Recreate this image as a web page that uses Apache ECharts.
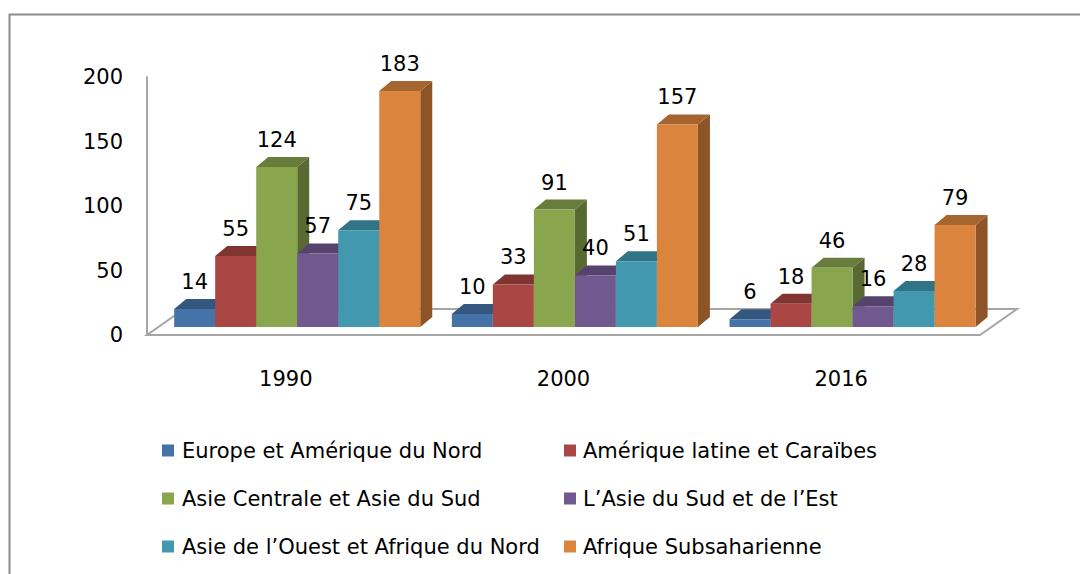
<!DOCTYPE html>
<html>
<head>
<meta charset="utf-8">
<script src="https://cdn.jsdelivr.net/npm/echarts@6/dist/echarts.min.js"></script>
<style>
html,body{margin:0;padding:0;background:#fff;}
#chart{width:1080px;height:574px;}
</style>
</head>
<body>
<div id="chart"></div>
<script>
// ---- data ----
const categories = ['1990', '2000', '2016'];
const seriesNames = [
  'Europe et Amérique du Nord',
  'Amérique latine et Caraïbes',
  'Asie Centrale et Asie du Sud',
  'L\u2019Asie du Sud et de l\u2019Est',
  'Asie de l\u2019Ouest et Afrique du Nord',
  'Afrique Subsaharienne'
];
const europeAmNord = [14, 10, 6];
const ameriqueLatine = [55, 33, 18];
const asieCentraleSud = [124, 91, 46];
const asieSudEst = [57, 40, 16];
const asieOuestAfNord = [75, 51, 28];
const afriqueSubsah = [183, 157, 79];
const yMin = 0, yMax = 200, yInterval = 50;

const seriesValues = [europeAmNord, ameriqueLatine, asieCentraleSud, asieSudEst, asieOuestAfNord, afriqueSubsah];
const colors = ['#4572A7', '#AA4643', '#89A54E', '#71588F', '#4198AF', '#DB843D'];
const FONT = 'DejaVu Sans';
const FS = 21;

function shade(hex, f) {
  const n = parseInt(hex.slice(1), 16);
  const r = Math.round(((n >> 16) & 255) * f), g = Math.round(((n >> 8) & 255) * f), b = Math.round((n & 255) * f);
  return 'rgb(' + r + ',' + g + ',' + b + ')';
}

const NS = seriesValues.length;
const BAR_FRAC = 0.1477;      // bar width as share of category band
const FRONT_DX_FRAC = 0.041;  // bar front plane shift (share of band)
const FRONT_DY = -8;
const DEPTH_DX = 12, DEPTH_DY = -10;
const FLOOR_DX = 37, FLOOR_DY = -26;

function makeBarRender(si) {
  return function (params, api) {
    const ci = api.value(0), v = api.value(1);
    const base = api.coord([ci, 0]);
    const top = api.coord([ci, v]);
    const band = api.size([1, 0])[0];
    const bw = band * BAR_FRAC;
    const x0 = base[0] - (NS / 2) * bw + si * bw + band * FRONT_DX_FRAC;
    const x1 = x0 + bw;
    const yb = base[1] + FRONT_DY;
    const yt = top[1] + FRONT_DY;
    const c = colors[si];
    return {
      type: 'group',
      children: [
        { type: 'polygon', shape: { points: [[x1, yb], [x1 + DEPTH_DX, yb + DEPTH_DY], [x1 + DEPTH_DX, yt + DEPTH_DY], [x1, yt]] },
          style: { fill: shade(c, 0.64) } },
        { type: 'polygon', shape: { points: [[x0, yt], [x1, yt], [x1 + DEPTH_DX, yt + DEPTH_DY], [x0 + DEPTH_DX, yt + DEPTH_DY]] },
          style: { fill: shade(c, 0.76) } },
        { type: 'rect', shape: { x: x0, y: yt, width: bw, height: yb - yt }, style: { fill: c } },
        { type: 'text', x: (x0 + x1) / 2, y: yt - 27,
          style: { text: String(v), fill: '#000', font: FS + 'px "' + FONT + '"', align: 'center', verticalAlign: 'middle' } }
      ]
    };
  };
}

function renderFloor(params, api) {
  const cs = params.coordSys;
  const x0 = cs.x, x1 = cs.x + cs.width, y = cs.y + cs.height;
  return {
    type: 'polygon',
    shape: { points: [[x0, y], [x1, y], [x1 + FLOOR_DX, y + FLOOR_DY], [x0 + FLOOR_DX, y + FLOOR_DY]] },
    style: { fill: '#ffffff', stroke: '#a6a6a6', lineWidth: 2 }
  };
}

const series = [{
  type: 'custom', name: '_floor', renderItem: renderFloor, data: [[0, 0]], z: 1, silent: true
}];
seriesValues.forEach(function (vals, si) {
  series.push({
    type: 'custom',
    name: seriesNames[si],
    itemStyle: { color: colors[si] },
    renderItem: makeBarRender(si),
    data: vals.map(function (v, i) { return [i, v]; }),
    z: 2
  });
});

const chart = echarts.init(document.getElementById('chart'), null, { renderer: 'svg' });
chart.setOption({
  animation: false,
  backgroundColor: '#fff',
  textStyle: { fontFamily: FONT },
  graphic: [{ type: 'rect', left: 7, top: 12, shape: { width: 1100, height: 600 },
    style: { fill: 'none', stroke: '#8c8c8c', lineWidth: 2 }, silent: true }],
  grid: { left: 147, right: 100, top: 77, bottom: 239 },
  xAxis: {
    type: 'category', data: categories,
    axisLine: { show: false }, axisTick: { show: false }, splitLine: { show: false },
    axisLabel: { color: '#000', fontSize: FS, fontFamily: FONT, margin: 33 }
  },
  yAxis: {
    type: 'value', min: yMin, max: yMax, interval: yInterval,
    axisLine: { show: true, lineStyle: { color: '#a6a6a6', width: 2 } },
    axisTick: { show: false }, splitLine: { show: false },
    axisLabel: { color: '#000', fontSize: FS, fontFamily: FONT, margin: 24 }
  },
  legend: [
    { orient: 'vertical', left: 157, top: 435, itemGap: 27, itemWidth: 12, itemHeight: 12, icon: 'rect',
      data: [seriesNames[0], seriesNames[2], seriesNames[4]],
      textStyle: { color: '#000', fontSize: FS, fontFamily: FONT, padding: [0, 0, 0, 3] } },
    { orient: 'vertical', left: 559, top: 435, itemGap: 27, itemWidth: 12, itemHeight: 12, icon: 'rect',
      data: [seriesNames[1], seriesNames[3], seriesNames[5]],
      textStyle: { color: '#000', fontSize: FS, fontFamily: FONT, padding: [0, 0, 0, 2] } }
  ],
  series: series
});
</script>
</body>
</html>
